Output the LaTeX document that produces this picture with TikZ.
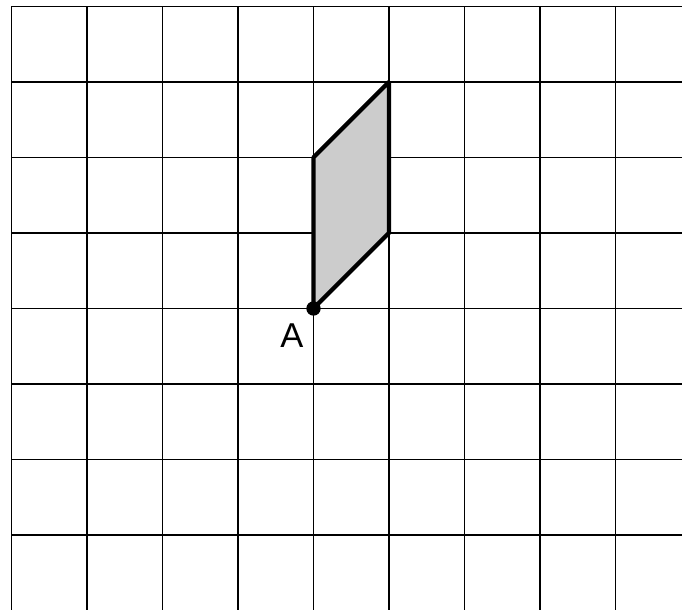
\documentclass[tikz,border=0pt]{standalone}
\usepackage{fontspec}
\setmainfont{Liberation Sans}
\begin{document}
\begin{tikzpicture}[x=1cm,y=-1cm,
  gridline/.style={line width=0.6pt,black},
  paraoutline/.style={line width=1.6pt,black,fill=black!20,line join=bevel},
  ptlabel/.style={font=\fontsize{13pt}{15pt}\selectfont,inner sep=0pt}]
\useasboundingbox (-0.1523,-0.0861) rectangle (8.881,7.993);
\foreach \i in {0,...,8} \draw[gridline] (\i,0) -- (\i,7.993);
\foreach \j in {0,...,7} \draw[gridline] (0,\j) -- (8.881,\j);
\coordinate (A) at (4,4);
\coordinate (B) at (4,2);
\coordinate (C) at (5,1);
\coordinate (D) at (5,3);
\draw[paraoutline] (A) -- (B) -- (C) -- (D) -- cycle;
\fill (A) circle (0.095);
\node[ptlabel] (lab) at (3.715,4.364) {A};
\end{tikzpicture}
\end{document}
